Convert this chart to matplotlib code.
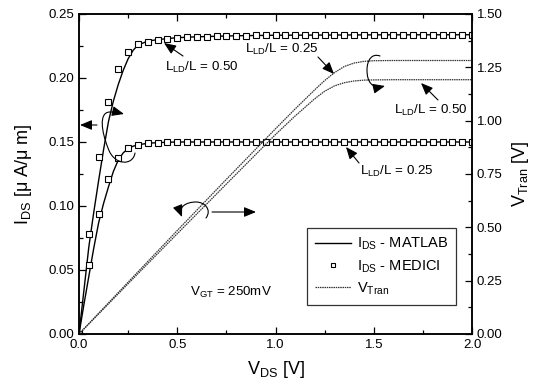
import numpy as np
import matplotlib
matplotlib.use("Agg")
import matplotlib.pyplot as plt
from matplotlib.path import Path
from matplotlib.patches import FancyArrowPatch
import matplotlib.transforms as mtransforms
from matplotlib.ticker import MultipleLocator

plt.rcParams['font.family'] = ['Liberation Sans', 'DejaVu Sans']
plt.rcParams['mathtext.fontset'] = 'custom'
plt.rcParams['mathtext.rm'] = 'Liberation Sans'
plt.rcParams['mathtext.it'] = 'Liberation Sans'

# MEDICI points (every 0.05 V)
vds_medici = np.round(np.arange(0, 2.0001, 0.05), 2)
ids_medici_050 = [0, 0.078, 0.1385, 0.181, 0.207, 0.2205, 0.2266, 0.2284, 0.2297, 0.2305,
                  0.2312, 0.2317, 0.2321, 0.2324, 0.2327, 0.2329, 0.2331, 0.2332, 0.2333, 0.2334,
                  0.2335, 0.2335, 0.2336, 0.2336, 0.2336, 0.2337, 0.2337, 0.2337, 0.2337, 0.2337,
                  0.2338, 0.2338, 0.2338, 0.2338, 0.2338, 0.2338, 0.2338, 0.2338, 0.2338, 0.2338, 0.2338]
ids_medici_025 = [0, 0.054, 0.094, 0.121, 0.1377, 0.145, 0.148, 0.149, 0.1495, 0.1498,
                  0.1499, 0.15, 0.15, 0.15, 0.15, 0.15, 0.15, 0.15, 0.15, 0.15,
                  0.15, 0.15, 0.15, 0.15, 0.15, 0.15, 0.15, 0.15, 0.15, 0.15,
                  0.15, 0.15, 0.15, 0.15, 0.15, 0.15, 0.15, 0.15, 0.15, 0.15, 0.15]

# MATLAB model curves
vds_model = [0, 0.025, 0.05, 0.075, 0.1, 0.125, 0.15, 0.175, 0.2, 0.225, 0.25, 0.275, 0.3,
             0.35, 0.4, 0.45, 0.5, 0.6, 0.8, 1.0, 1.5, 2.0]
ids_model_050 = [0, 0.034, 0.068, 0.095, 0.120, 0.144, 0.166, 0.182, 0.195, 0.206, 0.215, 0.2215,
                 0.2258, 0.2288, 0.2300, 0.2308, 0.2315, 0.2322, 0.2330, 0.2334, 0.2337, 0.2338]
ids_model_025 = [0, 0.023, 0.045, 0.067, 0.087, 0.102, 0.115, 0.127, 0.136, 0.1415, 0.1448, 0.1467,
                 0.1478, 0.149, 0.1495, 0.1498, 0.15, 0.15, 0.15, 0.15, 0.15, 0.15]

# V_Tran curves
vds_tran = [0, 0.25, 0.5, 0.75, 1.0, 1.1, 1.2, 1.25, 1.3, 1.35, 1.4, 1.45, 1.5, 1.6, 1.8, 2.0]
vtran_025 = [0, 0.243, 0.485, 0.725, 0.962, 1.055, 1.145, 1.188, 1.225, 1.254, 1.270, 1.278,
             1.281, 1.282, 1.282, 1.282]
vtran_050 = [0, 0.236, 0.470, 0.703, 0.935, 1.022, 1.103, 1.138, 1.163, 1.178, 1.186, 1.19,
             1.191, 1.192, 1.192, 1.192]

W, H = 533, 385
fig = plt.figure(figsize=(W / 100, H / 100), dpi=100)
ax = fig.add_axes([79 / W, (H - 334) / H, 393 / W, 320 / H])
ax2 = ax.twinx()

dot = (0, (1.2, 0.6))
l1, = ax.plot(vds_model, ids_model_050, color='black', lw=1.0)
ax.plot(vds_model, ids_model_025, color='black', lw=1.0)
m1, = ax.plot(vds_medici, ids_medici_050, ls='none', marker='s', ms=5, mfc='white',
              mec='black', mew=0.8)
ax.plot(vds_medici, ids_medici_025, ls='none', marker='s', ms=5, mfc='white',
        mec='black', mew=0.8)
t1, = ax2.plot(vds_tran, vtran_025, color='#333333', lw=0.9, ls=dot)
ax2.plot(vds_tran, vtran_050, color='#333333', lw=0.9, ls=dot)

ax.set_xlim(0, 2.0)
ax.set_ylim(0, 0.25)
ax2.set_ylim(0, 1.5)
ax.xaxis.set_major_locator(MultipleLocator(0.5))
ax.xaxis.set_minor_locator(MultipleLocator(0.25))
ax.yaxis.set_major_locator(MultipleLocator(0.05))
ax.yaxis.set_minor_locator(MultipleLocator(0.025))
ax2.yaxis.set_major_locator(MultipleLocator(0.25))
ax2.yaxis.set_minor_locator(MultipleLocator(0.125))
ax.xaxis.set_major_formatter(plt.FormatStrFormatter('%.1f'))
ax.yaxis.set_major_formatter(plt.FormatStrFormatter('%.2f'))
ax2.yaxis.set_major_formatter(plt.FormatStrFormatter('%.2f'))

ax.tick_params(which='both', direction='in', top=True, right=False, labelsize=9.5, width=0.9)
ax.tick_params(which='major', length=5)
ax.tick_params(which='minor', length=3)
ax2.tick_params(which='both', direction='in', labelsize=9.5, width=0.9)
ax2.tick_params(which='major', length=5)
ax2.tick_params(which='minor', length=3)
for a in (ax, ax2):
    for s in a.spines.values():
        s.set_linewidth(1.1)

ax.set_xlabel(r'$\mathrm{V_{DS}}$ [V]', fontsize=13, labelpad=6)
ax.set_ylabel(r'$\mathrm{I_{DS}}$ [μ A/μ m]', fontsize=13, labelpad=10)
ax2.set_ylabel(r'$\mathrm{V_{Tran}}$ [V]', fontsize=13, labelpad=5)

leg = ax.legend([l1, m1, t1],
                [r'$\mathrm{I_{DS}}$ - MATLAB', r'$\mathrm{I_{DS}}$ - MEDICI', r'$\mathrm{V_{Tran}}$'],
                loc='upper left', bbox_to_anchor=((307 - 79) / 393, (334 - 228) / 320),
                frameon=True, fancybox=False, edgecolor='black', fontsize=10.5,
                handlelength=2.5, handletextpad=0.35, borderpad=0.55, labelspacing=0.4,
                markerscale=0.7, borderaxespad=0)
leg.get_frame().set_linewidth(0.9)

# annotations (pixel coords from top-left of the figure)
pix = mtransforms.Affine2D().scale(1 / W, -1 / H).translate(0, 1) + fig.transFigure
arr = dict(arrowstyle='-|>,head_length=0.6,head_width=0.25', color='black', lw=0.8,
           shrinkA=0, shrinkB=0, mutation_scale=12)
fs = 9.6


def label(txt_xy, tail, tip, text):
    fig.text(txt_xy[0] / W, 1 - txt_xy[1] / H, text, fontsize=fs, va='center', ha='left')
    fig.patches.append(FancyArrowPatch(tail, tip, transform=pix, **arr))


lab = r'$\mathrm{L_{LD}}$/L = '
label((165, 67), (183, 56), (164, 43), lab + '0.50')
label((245, 49), (318, 57), (334, 74), lab + '0.25')
label((394, 110), (438, 100), (421, 83), lab + '0.50')
label((360, 171), (359, 163), (346, 147), lab + '0.25')
fig.text(190 / W, 1 - 292 / H, r'$\mathrm{V_{GT}}$ = 250mV', fontsize=fs, va='center', ha='left')

# straight pointer arrows
fig.patches.append(FancyArrowPatch((97, 125), (80, 125), transform=pix, **arr))
fig.patches.append(FancyArrowPatch((212, 212), (256, 212), transform=pix, **arr))

# curly arrows
curls = [
    [(135, 153), (133, 166), (114, 166), (108, 148), (102, 133), (98, 112), (110, 112),
     (116, 112), (120, 113), (124, 114)],
    [(380, 56), (372, 53), (367, 60), (367, 70), (367, 82), (372, 89), (385, 86)],
    [(206, 218), (212, 210), (205, 202), (196, 202), (186, 202), (178, 207), (182, 217)],
]
for pts in curls:
    codes = [Path.MOVETO] + [Path.CURVE4] * (len(pts) - 1)
    fig.patches.append(FancyArrowPatch(path=Path(pts, codes), transform=pix, **arr))

fig.savefig('out.png', dpi=100)
